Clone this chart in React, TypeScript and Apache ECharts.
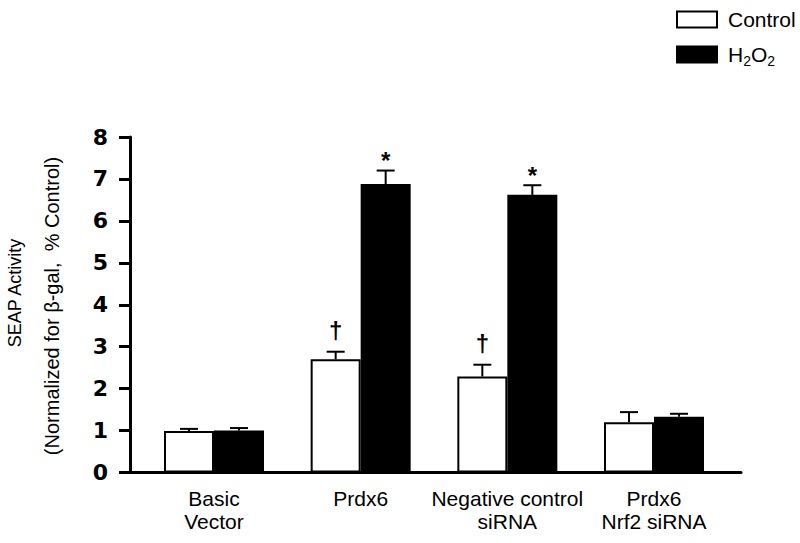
import React, { useEffect, useRef } from "react";
import * as echarts from "echarts";

const categories = ["Basic\nVector", "Prdx6", "Negative control\nsiRNA", "Prdx6\nNrf2 siRNA"];
const controlMean = [0.99, 2.7, 2.29, 1.2];
const controlSem = [0.05, 0.18, 0.28, 0.24];
const h2o2Mean = [1.0, 6.88, 6.62, 1.33];
const h2o2Sem = [0.06, 0.32, 0.23, 0.07];
const controlMarks = ["", "†", "†", ""];
const h2o2Marks = ["", "*", "*", ""];
const yTicks = [0, 1, 2, 3, 4, 5, 6, 7, 8];
const seriesNames = ["Control", "H2O2"];

const FONT = "'Liberation Sans', Arial, Helvetica, sans-serif";
const BAR_W = 50;

function errSeries(name: string, means: number[], sems: number[], marks: string[], side: number, markGap: number, markSize: number) {
  return {
    type: "custom",
    name: name + " err",
    z: 5,
    data: means.map((m, i) => [i, m, sems[i]]),
    renderItem: (params: any, api: any) => {
      const x = api.value(0);
      const m = api.value(1);
      const s = api.value(2);
      const base = api.coord([x, m]);
      const top = api.coord([x, m + s]);
      const px = base[0] + (side * BAR_W) / 2;
      const children: any[] = [
        { type: "line", shape: { x1: px, y1: base[1], x2: px, y2: top[1] }, style: { stroke: "#000", lineWidth: 2 } },
        { type: "line", shape: { x1: px - 9, y1: top[1], x2: px + 9, y2: top[1] }, style: { stroke: "#000", lineWidth: 2 } },
      ];
      const mk = marks[params.dataIndex];
      if (mk) {
        children.push({
          type: "text",
          style: {
            text: mk,
            x: px,
            y: top[1] - markGap,
            align: "center",
            verticalAlign: "middle",
            textAlign: "center",
            textVerticalAlign: "middle",
            fontSize: markSize,
            fontWeight: "bold",
            fontFamily: FONT,
            fill: "#000",
          },
        });
      }
      return { type: "group", children };
    },
  };
}

export default function App() {
  const ref = useRef<HTMLDivElement>(null);
  useEffect(() => {
    if (!ref.current) return;
    const chart = echarts.init(ref.current, null, { renderer: "svg" });
    const xMin = -0.5727;
    const xMax = 3.5932;
    chart.setOption({
      animation: false,
      backgroundColor: "#fff",
      grid: { left: 130, right: 59, top: 137, bottom: 70.5, containLabel: false },
      legend: {
        orient: "vertical",
        left: 676,
        top: 9,
        padding: 0,
        itemWidth: 40,
        itemHeight: 16,
        itemGap: 14,
        icon: "rect",
        data: seriesNames,
        selectedMode: false,
        formatter: (n: string) => (n === "H2O2" ? "{n|H}{sub|2}{n|O}{sub|2}" : "{n|" + n + "}"),
        textStyle: {
          color: "#000",
          fontFamily: FONT,
          fontSize: 21,
          padding: [0, 0, 0, 6],
          rich: {
            n: { fontSize: 21, fontFamily: FONT, color: "#000" },
            sub: { fontSize: 14, fontFamily: FONT, color: "#000", verticalAlign: "bottom", padding: [12, 0, 0, 0] },
          },
        },
      },
      xAxis: {
        type: "value",
        min: xMin,
        max: xMax,
        splitLine: { show: false },
        axisTick: { show: false },
        axisLine: { show: true, onZero: false, lineStyle: { color: "#000", width: 3 } },
        axisLabel: {
          customValues: [0, 1, 2, 3],
          formatter: (v: number) => categories[Math.round(v)] ?? "",
          color: "#000",
          fontFamily: FONT,
          fontSize: 21,
          lineHeight: 23,
          margin: 14,
        },
      },
      yAxis: {
        type: "value",
        min: 0,
        max: 8,
        interval: 1,
        splitLine: { show: false },
        axisLine: { show: true, onZero: false, lineStyle: { color: "#000", width: 3 } },
        axisTick: { show: true, length: 11, lineStyle: { color: "#000", width: 3 } },
        axisLabel: {
          formatter: (v: number) => (yTicks.includes(v) ? String(v) : ""),
          color: "#000",
          fontFamily: "'DejaVu Sans', sans-serif",
          fontWeight: "bold",
          fontSize: 22,
          margin: 22,
        },
      },
      graphic: [
        {
          type: "text",
          x: 15,
          y: 293,
          rotation: Math.PI / 2,
          style: { text: "SEAP Activity", fontFamily: FONT, fontSize: 18, fill: "#000", align: "center", verticalAlign: "middle" },
        },
        {
          type: "text",
          x: 52,
          y: 306,
          rotation: Math.PI / 2,
          style: { text: "(Normalized for β-gal,  % Control)", fontFamily: FONT, fontSize: 20, fill: "#000", align: "center", verticalAlign: "middle" },
        },
      ],
      series: [
        {
          name: "Control",
          type: "bar",
          barWidth: BAR_W,
          barGap: "0%",
          data: controlMean.map((v, i) => [i, v]),
          itemStyle: { color: "#fff", borderColor: "#000", borderWidth: 2 },
        },
        {
          name: "H2O2",
          type: "bar",
          barWidth: BAR_W,
          barGap: "0%",
          data: h2o2Mean.map((v, i) => [i, v]),
          itemStyle: { color: "#000", borderColor: "#000", borderWidth: 2 },
        },
        errSeries("Control", controlMean, controlSem, controlMarks, -1, 21, 24),
        errSeries("H2O2", h2o2Mean, h2o2Sem, h2o2Marks, 1, 10, 24),
      ],
    });
    return () => chart.dispose();
  }, []);
  return <div ref={ref} style={{ position: "fixed", left: 0, top: 0, width: 800, height: 543 }} />;
}
